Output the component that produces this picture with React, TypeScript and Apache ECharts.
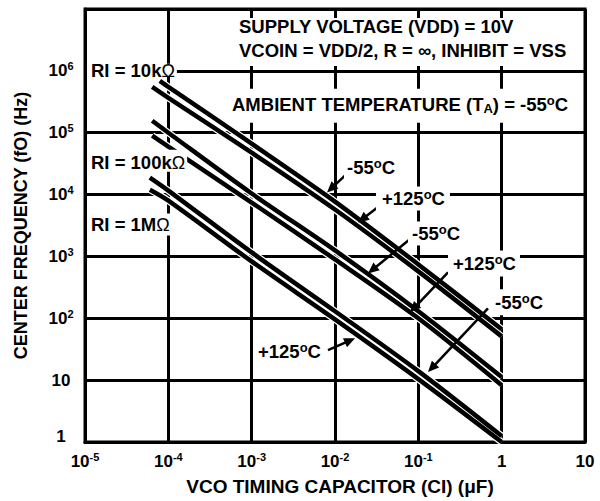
import React, { useEffect, useRef } from 'react';
import * as echarts from 'echarts';

const FONT = '"Liberation Sans", "DejaVu Sans", Arial, sans-serif';

// ---- axis tick labels (indexed by decade exponent): base and superscript ----
const xTickBase = ['10', '10', '10', '10', '10', '1', '10']; // exponents -5..1
const xTickSup = ['-5', '-4', '-3', '-2', '-1', '', ''];
const yTickBase = ['1', '10', '10', '10', '10', '10', '10', '']; // exponents 0..7
const yTickSup = ['', '', '2', '3', '4', '5', '6', ''];

// ---- curves: capacitance (uF) vs centre frequency (Hz) ----
const cap10kCold = [7.9e-5, 1e-4, 1e-3, 1e-2, 1e-1, 1];
const freq10kCold = [6.9e5, 5.52e5, 6.65e4, 7.7e3, 743, 66.5];
const cap10kHot = [6.4e-5, 1e-4, 1e-3, 1e-2, 1e-1, 1];
const freq10kHot = [5.52e5, 3.67e5, 4.76e4, 5.73e3, 573, 51];
const cap100kCold = [6.4e-5, 1e-4, 1e-3, 1e-2, 1e-1, 1];
const freq100kCold = [1.56e5, 1.0e5, 1.04e4, 1.25e3, 130, 11.2];
const cap100kHot = [6.4e-5, 1e-4, 1e-3, 1e-2, 1e-1, 1];
const freq100kHot = [8.95e4, 5.94e4, 7.43e3, 895, 100, 8.3];
const cap1MCold = [6.0e-5, 1e-4, 1e-3, 1e-2, 1e-1, 1];
const freq1MCold = [1.88e4, 1.16e4, 1.16e3, 130, 14, 1.25];
const cap1MHot = [6.0e-5, 1e-4, 1e-3, 1e-2, 1e-1, 1];
const freq1MHot = [1.2e4, 8.0e3, 830, 96, 10.4, 1.0];

const curveNames = [
  'RI = 10kΩ, -55°C', 'RI = 10kΩ, +125°C',
  'RI = 100kΩ, -55°C', 'RI = 100kΩ, +125°C',
  'RI = 1MΩ, -55°C', 'RI = 1MΩ, +125°C',
];
const curveCaps = [cap10kCold, cap10kHot, cap100kCold, cap100kHot, cap1MCold, cap1MHot];
const curveFreqs = [freq10kCold, freq10kHot, freq100kCold, freq100kHot, freq1MCold, freq1MHot];

// ---- annotations: text segments ([text, kind]) and anchor = [C, f] of text left / middle ----
const noteSegments: [string, string][][] = [
  [['SUPPLY VOLTAGE (VDD) = 10V', 'b']],
  [['VCOIN = VDD/2, R = ∞, INHIBIT = VSS', 'b']],
  [['AMBIENT TEMPERATURE (T', 'b'], ['A', 'sub'], [') = -55', 'b'], ['o', 'sup'], ['C', 'b']],
  [['RI = 10k', 'b'], ['Ω', 'om']],
  [['RI = 100k', 'b'], ['Ω', 'om']],
  [['RI = 1M', 'b'], ['Ω', 'om']],
  [['-55', 'b'], ['o', 'sup'], ['C', 'b']],
  [['+125', 'b'], ['o', 'sup'], ['C', 'b']],
  [['-55', 'b'], ['o', 'sup'], ['C', 'b']],
  [['+125', 'b'], ['o', 'sup'], ['C', 'b']],
  [['-55', 'b'], ['o', 'sup'], ['C', 'b']],
  [['+125', 'b'], ['o', 'sup'], ['C', 'b']],
];
const noteAnchors = [
  [7.05e-4, 5.13e6],
  [7.05e-4, 2.1e6],
  [5.81e-4, 2.83e5],
  [1.18e-5, 1.0e6],
  [1.18e-5, 3.28e4],
  [1.18e-5, 3.28e3],
  [0.01393, 2.72e4],
  [0.0366, 8.6e3],
  [0.0839, 2.35e3],
  [0.2606, 771],
  [0.832, 181],
  [1.19e-3, 29.4],
];
// white box padding [top, right, bottom, left] around an 18px text line
const notePadding = [
  [0, 8, 3, 4],
  [3, 8, 6, 4],
  [7, 6, 9, 4],
  [-2, 2, -4, 4],
  [4, 2, 0, 4],
  [2, 1, 2, 4],
  [2, 3, 2, 3],
  [3, 5, 3, 6],
  [3, 4, 3, 4],
  [4, 4, 4, 5],
  [4, 4, 4, 4],
  [4, 4, 4, 4],
];

// arrows: tail and tip in data coords
const arrowTails = [
  [0.01393, 2.18e4],
  [0.0347, 6.65e3],
  [0.0839, 2.02e3],
  [0.227, 552],
  [0.685, 145],
  [8.24e-3, 30.5],
];
const arrowTips = [
  [8.02e-3, 1.08e4],
  [0.01888, 3.53e3],
  [0.0249, 532],
  [0.0794, 125],
  [0.1306, 13.5],
  [0.0174, 47.5],
];

const exp10 = (v: number) => Math.round(Math.log10(v));

const segFont: Record<string, { size: number; weight: string; dy: number }> = {
  b: { size: 18.5, weight: 'bold', dy: 0 },
  sup: { size: 13, weight: 'bold', dy: -4 },
  sub: { size: 13, weight: 'bold', dy: 4 },
  om: { size: 18, weight: 'normal', dy: 0 },
};

export default function App() {
  const ref = useRef<HTMLDivElement>(null);

  useEffect(() => {
    if (!ref.current) return;
    const chart = echarts.init(ref.current, undefined, { renderer: 'svg' });

    const axisRich = {
      b: { fontFamily: FONT, fontWeight: 'bold', fontSize: 17, color: '#000', lineHeight: 20 },
      s: { fontFamily: FONT, fontWeight: 'bold', fontSize: 11, color: '#000', lineHeight: 9, verticalAlign: 'top' },
      one: { fontFamily: FONT, fontWeight: 'bold', fontSize: 17, color: '#000', lineHeight: 20, padding: [0, 0, 12, 0] },
    };

    const series: any[] = [];
    curveNames.forEach((name, i) => {
      const data = curveCaps[i].map((c, j) => [c, curveFreqs[i][j]]);
      series.push({
        type: 'line', name: name + ' halo', data, showSymbol: false, silent: true, z: 3,
        smooth: 0.3, lineStyle: { color: '#fff', width: 7 }, clip: true,
      });
    });
    curveNames.forEach((name, i) => {
      const data = curveCaps[i].map((c, j) => [c, curveFreqs[i][j]]);
      series.push({
        type: 'line', name, data, showSymbol: false, silent: true, z: 4,
        smooth: 0.3, lineStyle: { color: '#000', width: 4.5 }, clip: true,
      });
    });

    const titleStyle = { fontFamily: FONT, fontWeight: 'bold', fontSize: 19, color: '#000' };

    chart.setOption({
      animation: false,
      backgroundColor: '#fff',
      grid: { left: 85, right: 15, top: 9, bottom: 59, show: true, borderColor: '#000', borderWidth: 3 },
      xAxis: {
        type: 'log', logBase: 10, min: 1e-5, max: 10,
        axisLine: { show: true, onZero: false, lineStyle: { color: '#000', width: 3 } },
        axisTick: { show: false },
        splitLine: { show: true, lineStyle: { color: '#000', width: 3 } },
        axisLabel: {
          margin: 9, showMinLabel: true, showMaxLabel: true,
          fontFamily: FONT, fontWeight: 'bold', fontSize: 17, color: '#000',
          formatter: (v: number) => {
            const k = exp10(v) + 5;
            if (k < 0 || k >= xTickBase.length) return '';
            return xTickSup[k] ? `{b|${xTickBase[k]}}{s|${xTickSup[k]}}` : `{b|${xTickBase[k]}}`;
          },
          rich: axisRich,
        },
        name: 'VCO TIMING CAPACITOR (CI) (μF)',
        nameLocation: 'middle', nameGap: 35,
        nameTextStyle: { ...titleStyle, padding: [0, 0, 0, 10] },
      },
      yAxis: {
        type: 'log', logBase: 10, min: 1, max: 1e7,
        axisLine: { show: true, onZero: false, lineStyle: { color: '#000', width: 3 } },
        axisTick: { show: false },
        splitLine: { show: true, lineStyle: { color: '#000', width: 3 } },
        axisLabel: {
          margin: 24, align: 'center', showMinLabel: true, showMaxLabel: true,
          fontFamily: FONT, fontWeight: 'bold', fontSize: 17, color: '#000',
          formatter: (v: number) => {
            const k = exp10(v);
            if (k < 0 || k >= yTickBase.length || !yTickBase[k]) return '';
            if (k === 0) return `{one|${yTickBase[k]}}`;
            return yTickSup[k] ? `{b|${yTickBase[k]}}{s|${yTickSup[k]}}` : `{b|${yTickBase[k]}}`;
          },
          rich: axisRich,
        },
        name: 'CENTER FREQUENCY (fO) (Hz)',
        nameLocation: 'middle', nameGap: 55, nameRotate: 90,
        nameTextStyle: { ...titleStyle, fontSize: 18 },
      },
      series,
    });

    const toPx = (p: number[]) => chart.convertToPixel({ gridIndex: 0 } as any, p) as unknown as number[];
    const ctx = document.createElement('canvas').getContext('2d') as CanvasRenderingContext2D;
    const measure = (t: string, k: string) => {
      ctx.font = `${segFont[k].weight} ${segFont[k].size}px ${FONT}`;
      return ctx.measureText(t).width;
    };

    const elements: any[] = [];
    arrowTails.forEach((t, i) => {
      const a = toPx(t);
      const b = toPx(arrowTips[i]);
      const dx = b[0] - a[0];
      const dy = b[1] - a[1];
      const len = Math.hypot(dx, dy) || 1;
      const ux = dx / len;
      const uy = dy / len;
      const headLen = 11;
      const half = 5;
      const bx = b[0] - ux * headLen;
      const by = b[1] - uy * headLen;
      elements.push({
        type: 'line', z: 50, silent: true,
        shape: { x1: a[0], y1: a[1], x2: bx + ux * 2, y2: by + uy * 2 },
        style: { stroke: '#000', lineWidth: 2.5 },
      });
      elements.push({
        type: 'polygon', z: 50, silent: true,
        shape: { points: [[b[0], b[1]], [bx - uy * half, by + ux * half], [bx + uy * half, by - ux * half]] },
        style: { fill: '#000' },
      });
    });

    noteSegments.forEach((segs, i) => {
      const p = toPx(noteAnchors[i]);
      const [pt, pr, pb, pl] = notePadding[i];
      let x = p[0];
      const texts: any[] = [];
      segs.forEach(([txt, kind]) => {
        const f = segFont[kind];
        texts.push({
          type: 'text', z: 60, silent: true, x, y: p[1] + f.dy,
          style: {
            text: txt, fontFamily: FONT, fontWeight: f.weight, fontSize: f.size,
            fill: '#000', align: 'left', verticalAlign: 'middle',
          },
        });
        x += measure(txt, kind);
      });
      const w = x - p[0];
      elements.push({
        type: 'rect', z: 55, silent: true,
        shape: { x: p[0] - pl, y: p[1] - 9 - pt, width: w + pl + pr, height: 18 + pt + pb },
        style: { fill: '#fff' },
      });
      elements.push(...texts);
    });
    chart.setOption({ graphic: { elements } });

    return () => chart.dispose();
  }, []);

  return (
    <div
      ref={ref}
      style={{ position: 'fixed', left: 0, top: 0, width: 600, height: 501, background: '#fff' }}
    />
  );
}
